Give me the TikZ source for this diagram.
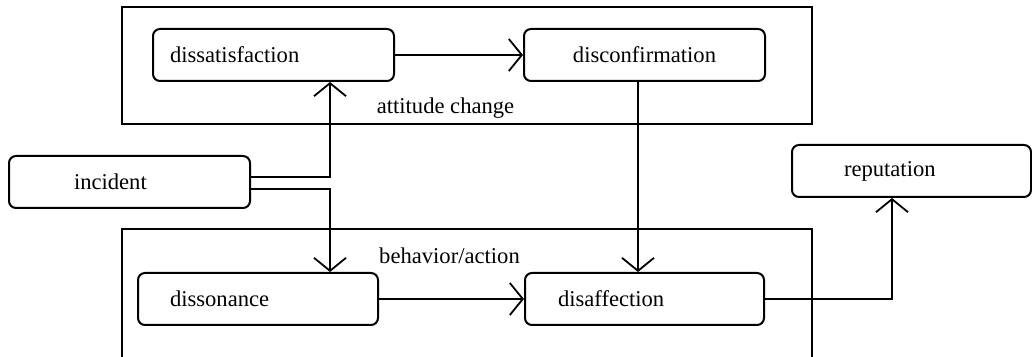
\documentclass[tikz,border=0pt]{standalone}
\usepackage{fontspec}
\setmainfont{Liberation Serif}
\usepackage{tikz}
\usetikzlibrary{arrows.meta,positioning}
\tikzset{
  box/.style  ={rectangle, rounded corners=3.5pt, draw, line width=1pt,
                minimum height=26pt, inner ysep=0pt, align=left},
  frame/.style={draw, line width=0.85pt},
  flow/.style ={-{Straight Barb[length=6.5pt,width=16pt]}, line width=0.9pt},
  lbl/.style  ={inner sep=0pt}
}
\begin{document}
\begin{tikzpicture}[x=0.5pt, y=-0.5pt, font=\fontsize{11.3}{13}\selectfont]
\useasboundingbox (0,0) rectangle (1032,357);
\clip (0,0) rectangle (1032,357);
% frames
\draw[frame] (122,7) rectangle (812,124);
\draw[frame] (122,370) -- (122,229) -- (812,229) -- (812,370);
\node[lbl] (attlbl) at (445.5,108) {attitude change};
\node[lbl] (behlbl) at (449.5,256) {behavior/action};

% boxes
\node[box, inner xsep=8.5pt, text width=103.5pt] (dsat) at (273.5,55) {dissatisfaction};
\node[box, right=64pt of dsat, inner xsep=8pt, text width=104.5pt, align=center] (dconf) {disconfirmation};
\node[box, inner xsep=32.5pt, text width=55.5pt] (inc) at (129.5,182) {incident};
\node[box, inner xsep=16pt, text width=88pt] (dson) at (258,299) {dissonance};
\node[box, right=72.5pt of dson, inner xsep=16.5pt, text width=86.5pt] (daff) {disaffection};
\node[box, inner xsep=26pt, text width=67.5pt] (rep) at (911.5,171) {reputation};

% arrows
\draw[flow] (dsat) -- (dconf);
\draw[flow] ([yshift=2.5pt]inc.east) -| ([xshift=28.25pt]dsat.south);
\draw[flow] ([yshift=-3.5pt]inc.east) -| ([xshift=36pt]dson.north);
\draw[flow] ([xshift=-3.25pt]dconf.south) -- ([xshift=-3.25pt]daff.north);
\draw[flow] (dson) -- (daff);
\draw[flow] (daff.east) -| ([xshift=-9.75pt]rep.south);
\end{tikzpicture}
\end{document}
